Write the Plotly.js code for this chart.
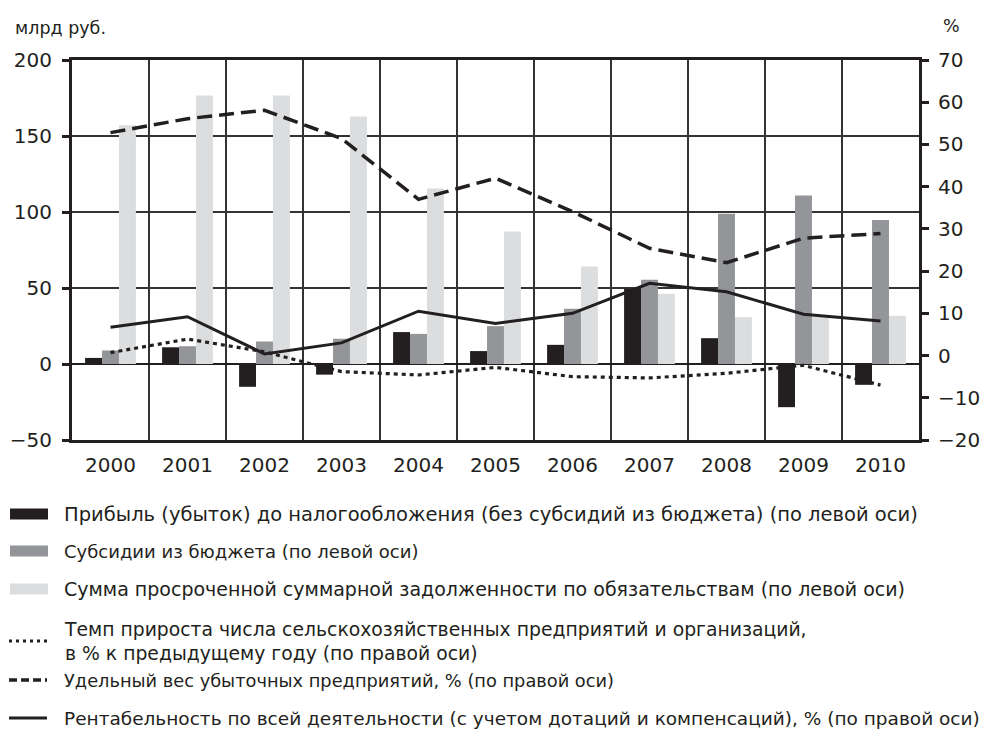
<!DOCTYPE html>
<html>
<head>
<meta charset="utf-8">
<script src="https://cdn.plot.ly/plotly-3.0.1.min.js"></script>
<style>
html,body{margin:0;padding:0;background:#fff;}
#chart{width:985px;height:738px;}
</style>
</head>
<body>
<div id="chart"></div>
<script>
// ---- data ----
const years = ['2000','2001','2002','2003','2004','2005','2006','2007','2008','2009','2010'];
const profit = [4, 11, -15, -7, 21, 8.5, 12.6, 49.5, 17, -28.4, -13.7];          // млрд руб.
const subsidies = [8.9, 11.7, 14.8, 16.6, 19.8, 24.9, 36.3, 55.4, 98.8, 110.9, 94.8];
const overdueDebt = [157, 176.6, 176.6, 162.8, 115.5, 87.2, 64.1, 46.2, 30.8, 31, 31.7];
const growthRate = [0.7, 3.9, 0.9, -3.8, -4.6, -2.8, -5.0, -5.3, -4.2, -2.3, -7.0]; // %
const lossShare = [52.8, 56.1, 58.1, 51.4, 37, 42, 34.1, 25.4, 22, 27.8, 28.9];     // %
const profitability = [6.7, 9.2, 0.4, 3.0, 10.5, 7.6, 10, 17.1, 15.1, 9.8, 8.2];  // %

const legendLabels = [
  'Прибыль (убыток) до налогообложения (без субсидий из бюджета) (по левой оси)',
  'Субсидии из бюджета (по левой оси)',
  'Сумма просроченной суммарной задолженности по обязательствам (по левой оси)',
  'Темп прироста числа сельскохозяйственных предприятий и организаций,<br>в % к предыдущему году (по правой оси)',
  'Удельный вес убыточных предприятий, % (по правой оси)',
  'Рентабельность по всей деятельности (с учетом дотаций и компенсаций), % (по правой оси)'
];

// ---- styles ----
const FONT = 'DejaVu Sans, sans-serif';
const INK = '#231f20';
const C_BLACK = '#231f20', C_GREY = '#939598', C_LIGHT = '#dcdddf';

const W = 985, H = 738;
const M = {l:72, r:66, t:60, b:298};
const PW = W - M.l - M.r, PH = H - M.t - M.b;
const px = x => (x - M.l) / PW;
const py = y => (H - M.b - y) / PH;

const traces = [
  {type:'bar', x:years, y:profit, name:legendLabels[0], marker:{color:C_BLACK}, yaxis:'y', hoverinfo:'skip'},
  {type:'bar', x:years, y:subsidies, name:legendLabels[1], marker:{color:C_GREY}, yaxis:'y', hoverinfo:'skip'},
  {type:'bar', x:years, y:overdueDebt, name:legendLabels[2], marker:{color:C_LIGHT}, yaxis:'y', hoverinfo:'skip'},
  {type:'scatter', mode:'lines', x:years, y:growthRate, name:legendLabels[3], yaxis:'y2',
    line:{color:C_BLACK, width:3.2, dash:'4px,4px'}, hoverinfo:'skip'},
  {type:'scatter', mode:'lines', x:years, y:lossShare, name:legendLabels[4], yaxis:'y2',
    line:{color:C_BLACK, width:3.5, dash:'15px,7px'}, hoverinfo:'skip'},
  {type:'scatter', mode:'lines', x:years, y:profitability, name:legendLabels[5], yaxis:'y2',
    line:{color:C_BLACK, width:3}, hoverinfo:'skip'}
];

// ---- manual legend ----
const shapes = [];
const annotations = [];
const legendY = [514, 551, 589, 641, 680, 718];
const legendSizes = [19.5, 18, 19, 18.8, 17.8, 18.5];
const swatchColors = [C_BLACK, C_GREY, C_LIGHT];
for (let i = 0; i < 3; i++) {
  shapes.push({type:'rect', xref:'paper', yref:'paper', x0:px(10), x1:px(48),
    y0:py(legendY[i]-5.5), y1:py(legendY[i]+5.5), fillcolor:swatchColors[i], line:{width:0}});
}
const lineStyles = [
  {dash:'3px,4px', width:3},
  {dash:'8px,4px', width:3.5},
  {dash:'solid', width:3}
];
for (let i = 3; i < 6; i++) {
  const s = lineStyles[i-3];
  shapes.push({type:'line', xref:'paper', yref:'paper', x0:px(9), x1:px(47),
    y0:py(legendY[i]), y1:py(legendY[i]), line:{color:C_BLACK, width:s.width, dash:s.dash}});
}
for (let i = 0; i < 6; i++) {
  annotations.push({xref:'paper', yref:'paper', x:px(62), y:py(legendY[i]), xanchor:'left', yanchor:'middle',
    text:legendLabels[i], showarrow:false, align:'left', font:{family:FONT, size:legendSizes[i], color:INK}});
}
annotations.push({xref:'paper', yref:'paper', x:px(13), y:py(28), xanchor:'left', yanchor:'middle',
  text:'млрд руб.', showarrow:false, font:{family:FONT, size:17.5, color:INK}});
annotations.push({xref:'paper', yref:'paper', x:px(962), y:py(26), xanchor:'right', yanchor:'middle',
  text:'%', showarrow:false, font:{family:FONT, size:17.5, color:INK}});

const layout = {
  width:W, height:H,
  margin:M,
  paper_bgcolor:'#fff', plot_bgcolor:'#fff',
  showlegend:false,
  barmode:'group', bargap:0.34, bargroupgap:0,
  font:{family:FONT, color:INK},
  xaxis:{
    type:'category', tickson:'boundaries', ticks:'', showgrid:true, gridcolor:'#333', gridwidth:1.2,
    showline:true, mirror:true, linecolor:INK, linewidth:3,
    tickfont:{family:FONT, size:20, color:INK}, ticklabelstandoff:5, fixedrange:true
  },
  yaxis:{
    range:[-50,200], dtick:50, tick0:0, showgrid:true, gridcolor:'#333', gridwidth:1.2,
    zeroline:true, zerolinecolor:INK, zerolinewidth:2,
    showline:true, linecolor:INK, linewidth:3, ticks:'outside', ticklen:7, tickwidth:3, tickcolor:INK,
    tickfont:{family:FONT, size:20, color:INK}, ticklabelstandoff:6, fixedrange:true
  },
  yaxis2:{
    overlaying:'y', side:'right', range:[-20,70], dtick:10, tick0:0, showgrid:false, zeroline:false,
    showline:true, linecolor:INK, linewidth:3, ticks:'outside', ticklen:7, tickwidth:3, tickcolor:INK,
    tickfont:{family:FONT, size:20, color:INK}, ticklabelstandoff:5, fixedrange:true
  },
  shapes:shapes,
  annotations:annotations
};

Plotly.newPlot('chart', traces, layout, {displayModeBar:false, staticPlot:true});
</script>
</body>
</html>
